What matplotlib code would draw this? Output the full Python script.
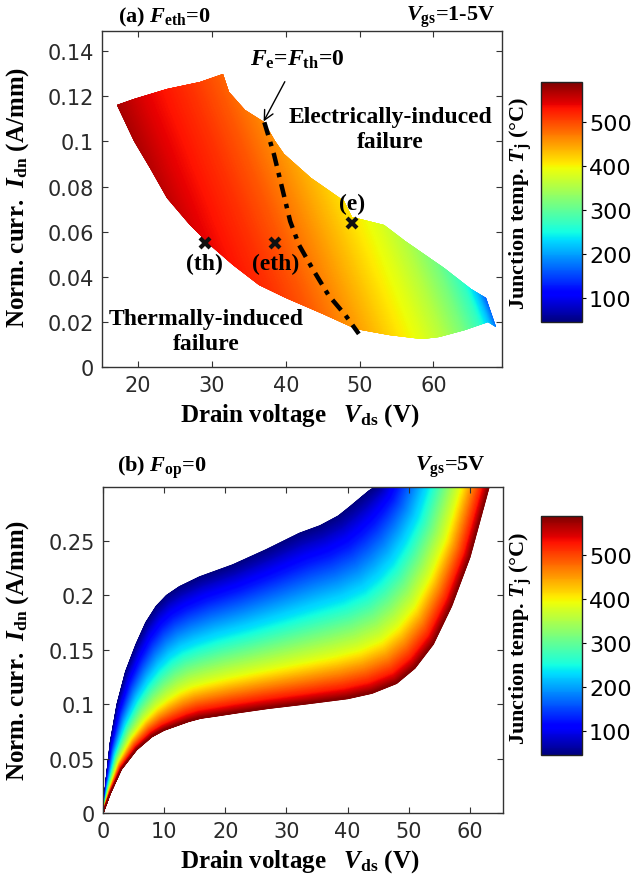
"""Junction temperature maps for failure boundaries (panels a and b)."""

import matplotlib
matplotlib.use("Agg")
import matplotlib.pyplot as plt
import matplotlib.patches as mpatches
import numpy as np
from matplotlib.cm import ScalarMappable
from matplotlib.colors import Normalize
from matplotlib.ticker import FormatStrFormatter

plt.rcParams["mathtext.fontset"] = "custom"
plt.rcParams["mathtext.rm"] = "Liberation Serif:bold"
plt.rcParams["mathtext.bf"] = "Liberation Serif:bold"
plt.rcParams["mathtext.it"] = "Liberation Serif:italic:bold"

# ---- panel (a): region of F_eth = 0 ----
region_v = [17.1, 19.4, 23.9, 28.4, 31.5, 32.3, 34.5, 37.1, 38.5, 39.8, 43.4, 47.9,
            49.0, 53.3, 56.1, 61.5, 65.1, 67.1, 68.5, 67.4, 64.3, 60.7, 58.5, 54.0,
            49.5, 45.1, 40.0, 36.4, 32.8, 29.7, 27.0, 23.9, 21.6, 19.4]
region_i = [0.116, 0.119, 0.1234, 0.1263, 0.1299, 0.122, 0.114, 0.1085, 0.100,
            0.0943, 0.0839, 0.0735, 0.0665, 0.0631, 0.0557, 0.0437, 0.0348, 0.0304,
            0.0177, 0.020, 0.0162, 0.0133, 0.0125, 0.014, 0.017, 0.0237, 0.0304,
            0.0363, 0.0452, 0.0541, 0.0631, 0.075, 0.0884, 0.1003]
# junction temperature read along the band (u = Vds + tilt * Idn)
band_u = [30, 32, 35, 38, 42, 46, 50, 54, 57, 60, 63, 66, 68.5, 70, 71.5]
band_t = [578, 565, 545, 530, 512, 490, 462, 432, 408, 385, 355, 315, 270, 215, 130]
band_tilt = 120.0

fe_v = [37.1, 38.4, 39.5, 40.6, 41.8, 43.6, 45.8, 48.1, 49.9]
fe_i = [0.1085, 0.0943, 0.0795, 0.0646, 0.0541, 0.0437, 0.0318, 0.0229, 0.0147]

pt_v = [29.0, 38.6, 49.0]
pt_i = [0.0549, 0.0549, 0.0638]
pt_lab = ["(th)", "(eth)", "(e)"]

# ---- panel (b): F_op = 0, Vgs = 5 V ----
# coolest (upper) and hottest (lower) boundary curves, paired point by point
top_v = [0, 0.5, 1.2, 2.3, 3.7, 5.4, 7.0, 8.7, 10.4, 12.5, 15.8, 21.2, 26.7, 32.1,
         35.5, 38.5, 40.5, 42.2, 43.5, 44.6, 45.5]
top_i = [0, 0.03, 0.065, 0.10, 0.13, 0.155, 0.175, 0.19, 0.20, 0.208, 0.217, 0.228,
         0.242, 0.257, 0.264, 0.273, 0.282, 0.29, 0.296, 0.30, 0.306]
bot_v = [0, 1.2, 3.0, 5.5, 8.0, 10.0, 12.0, 14.0, 16.0, 18.5, 22.0, 27.0, 33.0, 40.0,
         44.0, 48.0, 51.0, 54.0, 57.0, 60.0, 63.4]
bot_i = [0, 0.018, 0.04, 0.058, 0.07, 0.076, 0.080, 0.084, 0.087, 0.089, 0.092, 0.096,
         0.100, 0.105, 0.110, 0.119, 0.133, 0.155, 0.19, 0.235, 0.305]
# position across the band (0 = upper edge, 1 = lower edge) of each temperature
band_frac = [0, 0.15, 0.48, 0.74, 0.935, 1.0]
band_temp = [45, 113, 250, 386, 522, 590]

T_MIN, T_MAX = 45, 590
CB_TICKS = [100, 200, 300, 400, 500]

W, H = 634, 887
SERIF = "Liberation Serif"


def fx(x):
    return x / W


def fy(y):
    return 1 - y / H


def style_axes(ax):
    for s in ax.spines.values():
        s.set_color("#333333")
        s.set_linewidth(1.0)
    ax.tick_params(direction="in", top=True, right=True, length=4, width=0.8,
                   labelsize=15, colors="#333333", labelcolor="#2a2a2a", pad=6)
    for lab in ax.get_xticklabels() + ax.get_yticklabels():
        lab.set_family("DejaVu Sans")


def style_cbar(cax, cb):
    cb.outline.set_linewidth(1.0)
    cb.outline.set_edgecolor("#222222")
    cb.set_ticks(CB_TICKS)
    cax.tick_params(direction="out", length=3, width=0.8, labelsize=16, pad=2)


fig = plt.figure(figsize=(W / 100, H / 100), dpi=100)
fig.patch.set_facecolor("white")

norm = Normalize(T_MIN, T_MAX)
note = dict(family=SERIF, weight="bold", fontsize=17)

# ---------------- panel (a) ----------------
ax_a = fig.add_axes([fx(102), fy(368), 400 / W, 336 / H])
gv = np.linspace(16, 70, 400)
gi = np.linspace(0, 0.135, 300)
GV, GI = np.meshgrid(gv, gi)
TA = np.interp(GV + band_tilt * GI, band_u, band_t)
mesh_a = ax_a.pcolormesh(GV, GI, TA, cmap="jet", norm=norm, shading="gouraud")
poly = mpatches.Polygon(np.column_stack([region_v, region_i]), closed=True,
                        facecolor="none", edgecolor="none", transform=ax_a.transData)
ax_a.add_patch(poly)
mesh_a.set_clip_path(poly)

ax_a.plot(fe_v, fe_i, color="black", lw=3.2, linestyle=(0, (3.0, 1.6, 1.0, 1.6)))
ax_a.plot(pt_v, pt_i, linestyle="none", marker="x", ms=7, mew=3, color="#111111")
ax_a.text(pt_v[0], pt_i[0] - 0.0045, pt_lab[0], ha="center", va="top", **note)
ax_a.text(pt_v[1], pt_i[1] - 0.0045, pt_lab[1], ha="center", va="top", **note)
ax_a.text(pt_v[2], pt_i[2] + 0.004, pt_lab[2], ha="center", va="bottom", **note)

ax_a.text(54.2, 0.1054, "Electrically-induced\nfailure", ha="center", va="center",
          linespacing=1.25, **note)
ax_a.text(29.2, 0.016, "Thermally-induced\nfailure", ha="center", va="center",
          linespacing=1.25, **note)
ax_a.annotate(r"$F_{\mathrm{e}}$=$F_{\mathrm{th}}$=0", xy=(37.0, 0.1089),
              xytext=(41.5, 0.1365), ha="center", va="center",
              arrowprops=dict(arrowstyle="->", color="black", lw=1.0,
                              shrinkA=7, shrinkB=0), **note)

ax_a.set_xlim(15.1, 69.3)
ax_a.set_ylim(0, 0.149)
ax_a.set_xticks([20, 30, 40, 50, 60])
ax_a.set_yticks([0, 0.02, 0.04, 0.06, 0.08, 0.1, 0.12, 0.14])
ax_a.yaxis.set_major_formatter(FormatStrFormatter("%g"))
style_axes(ax_a)

cax_a = fig.add_axes([fx(541), fy(323), 41 / W, 240 / H])
cb_a = fig.colorbar(ScalarMappable(norm=norm, cmap="jet"), cax=cax_a)
style_cbar(cax_a, cb_a)

# ---------------- panel (b) ----------------
ax_b = fig.add_axes([fx(103), fy(814), 400 / W, 326 / H])
idx = np.arange(len(top_v))
s = np.linspace(0, len(top_v) - 1, 600)
tv, ti = np.interp(s, idx, top_v), np.interp(s, idx, top_i)
bv, bi = np.interp(s, idx, bot_v), np.interp(s, idx, bot_i)
f = np.linspace(0, 1, 200)[:, None]
XB = (1 - f) * tv[None, :] + f * bv[None, :]
YB = (1 - f) * ti[None, :] + f * bi[None, :]
TB = np.interp(f, band_frac, band_temp) * np.ones_like(XB)
ax_b.pcolormesh(XB, YB, TB, cmap="jet", norm=norm, shading="gouraud")

ax_b.set_xlim(0, 65.4)
ax_b.set_ylim(0, 0.2995)
ax_b.set_xticks([0, 10, 20, 30, 40, 50, 60])
ax_b.set_yticks([0, 0.05, 0.1, 0.15, 0.2, 0.25])
ax_b.yaxis.set_major_formatter(FormatStrFormatter("%g"))
style_axes(ax_b)

cax_b = fig.add_axes([fx(541), fy(756), 41 / W, 239 / H])
cb_b = fig.colorbar(ScalarMappable(norm=norm, cmap="jet"), cax=cax_b)
style_cbar(cax_b, cb_b)

# ---------------- figure texts ----------------
ttl = dict(family=SERIF, weight="bold", fontsize=16)
fig.text(fx(118), fy(17), r"(a) $F_{\mathrm{eth}}$=0", ha="left", va="center", **ttl)
fig.text(fx(495), fy(17), r"$V_{\mathrm{gs}}$=1-5V", ha="right", va="center", **ttl)
fig.text(fx(117), fy(468), r"(b) $F_{\mathrm{op}}$=0", ha="left", va="center", **ttl)
fig.text(fx(486), fy(467), r"$V_{\mathrm{gs}}$=5V", ha="right", va="center", **ttl)

axl = dict(family=SERIF, weight="bold", fontsize=18)
cbl = dict(family=SERIF, weight="bold", fontsize=16)
xl = r"Drain voltage   $V_{\mathrm{ds}}$ (V)"
yl = r"Norm. curr.  $I_{\mathrm{dn}}$ (A/mm)"
cl = r"Junction temp. $T_{\mathrm{j}}$ (°C)"
fig.text(fx(300), fy(416), xl, ha="center", va="center", **axl)
fig.text(fx(300), fy(862), xl, ha="center", va="center", **axl)
fig.text(fx(18), fy(197), yl, ha="center", va="center", rotation=90, **axl)
fig.text(fx(18), fy(650), yl, ha="center", va="center", rotation=90, **axl)
fig.text(fx(521), fy(203), cl, ha="center", va="center", rotation=90, **cbl)
fig.text(fx(521), fy(638), cl, ha="center", va="center", rotation=90, **cbl)

fig.savefig("out.png", dpi=100)
